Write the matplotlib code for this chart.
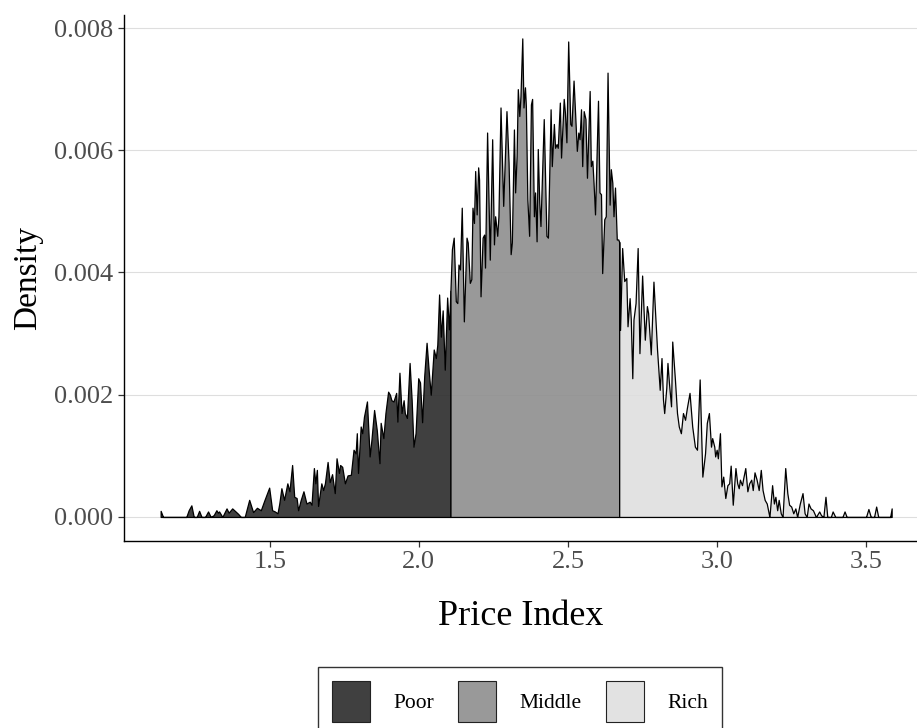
import numpy as np
import matplotlib
matplotlib.use("Agg")
import matplotlib.pyplot as plt
from matplotlib.patches import Patch
from matplotlib.colors import to_rgba

# density values, in units of 1e-4
poor_x = [1.134, 1.142, 1.220, 1.228, 1.237, 1.245, 1.255, 1.263, 1.271, 1.283,
          1.293, 1.302, 1.312, 1.321, 1.326, 1.330, 1.341, 1.355, 1.362, 1.374,
          1.383, 1.394, 1.403, 1.416, 1.431, 1.444, 1.457, 1.470, 1.481, 1.498,
          1.508, 1.517, 1.526, 1.532, 1.539, 1.548, 1.559, 1.566, 1.575, 1.582,
          1.590, 1.595, 1.604, 1.613, 1.623, 1.634, 1.640, 1.648, 1.653, 1.658,
          1.662, 1.673, 1.679, 1.685, 1.694, 1.701, 1.709, 1.718, 1.724, 1.732,
          1.736, 1.743, 1.752, 1.761, 1.772, 1.781, 1.788, 1.792, 1.796, 1.805,
          1.810, 1.816, 1.826, 1.835, 1.841, 1.850, 1.859, 1.868, 1.872, 1.881,
          1.888, 1.897, 1.903, 1.908, 1.915, 1.924, 1.928, 1.935, 1.942, 1.949,
          1.953, 1.960, 1.969, 1.976, 1.982, 1.989, 1.998, 2.004, 2.011, 2.018,
          2.026, 2.033, 2.040, 2.050, 2.057, 2.062, 2.068, 2.074, 2.080, 2.087,
          2.095, 2.101, 2.106]
poor_y = [1.0, 0.0, 0.0, 1.1, 1.9, 0.0, 0.0, 1.0, 0.0, 0.0,
          0.9, 0.0, 0.3, 1.1, 0.7, 0.9, 0.0, 1.4, 0.7, 1.4,
          1.0, 0.5, 0.0, 0.0, 2.8, 0.8, 1.5, 1.1, 2.6, 4.8,
          1.1, 0.9, 0.6, 2.2, 4.7, 2.8, 5.5, 4.2, 8.5, 3.3,
          3.1, 1.1, 2.8, 4.2, 2.2, 2.5, 2.0, 8.0, 5.5, 7.7,
          1.8, 5.5, 4.4, 5.5, 9.0, 5.7, 7.0, 3.9, 9.6, 7.2,
          8.5, 8.2, 5.5, 6.8, 6.9, 11.0, 10.4, 13.7, 7.2, 14.8,
          13.7, 16.4, 18.9, 9.9, 12.6, 17.5, 14.2, 8.8, 15.4, 12.9,
          17.0, 20.5, 20.0, 19.1, 18.9, 20.3, 15.6, 23.6, 17.0, 19.1,
          17.0, 16.2, 25.2, 19.1, 11.5, 13.7, 22.7, 22.0, 15.5, 23.0,
          28.5, 24.0, 20.0, 27.4, 26.0, 28.2, 36.4, 29.5, 33.8, 24.1,
          35.9, 30.7, 37.0]

middle_x = [2.106, 2.111, 2.117, 2.124, 2.129, 2.133, 2.138, 2.144, 2.151, 2.160,
            2.164, 2.171, 2.176, 2.180, 2.185, 2.189, 2.194, 2.199, 2.202, 2.207,
            2.214, 2.219, 2.222, 2.229, 2.238, 2.246, 2.252, 2.256, 2.263, 2.267,
            2.274, 2.283, 2.294, 2.301, 2.308, 2.312, 2.319, 2.323, 2.328, 2.332,
            2.337, 2.341, 2.347, 2.351, 2.356, 2.359, 2.364, 2.370, 2.376, 2.380,
            2.386, 2.390, 2.395, 2.399, 2.404, 2.408, 2.419, 2.428, 2.433, 2.442,
            2.446, 2.453, 2.457, 2.462, 2.466, 2.473, 2.477, 2.486, 2.490, 2.495,
            2.501, 2.508, 2.512, 2.519, 2.523, 2.530, 2.535, 2.539, 2.544, 2.548,
            2.553, 2.559, 2.564, 2.568, 2.573, 2.577, 2.582, 2.586, 2.591, 2.601,
            2.606, 2.611, 2.615, 2.622, 2.627, 2.633, 2.640, 2.644, 2.649, 2.653,
            2.658, 2.664, 2.669, 2.672]
middle_y = [37.0, 43.8, 45.7, 35.3, 35.0, 41.3, 40.5, 50.6, 32.0, 45.7,
            44.9, 38.3, 38.9, 50.6, 48.1, 56.6, 49.5, 57.2, 55.2, 36.1,
            45.7, 46.2, 40.8, 62.9, 42.1, 61.8, 44.6, 49.2, 46.0, 49.2,
            67.0, 50.9, 66.4, 58.0, 43.0, 44.9, 63.4, 53.1, 59.1, 70.0,
            65.6, 68.9, 78.3, 67.0, 70.3, 67.3, 52.0, 46.0, 67.5, 68.4,
            49.2, 53.1, 45.1, 60.2, 51.4, 47.6, 65.1, 46.0, 45.7, 66.7,
            57.4, 64.3, 60.4, 61.0, 60.4, 67.8, 58.8, 68.4, 66.2, 61.3,
            77.8, 64.3, 64.0, 71.4, 67.3, 59.9, 62.9, 61.8, 66.7, 57.4,
            66.4, 65.1, 55.5, 61.8, 69.7, 57.4, 58.3, 54.7, 49.5, 68.1,
            53.1, 52.8, 39.9, 48.7, 49.2, 72.7, 51.1, 56.9, 54.7, 49.2,
            53.9, 45.4, 45.4, 45.0]

rich_x = [2.672, 2.675, 2.682, 2.689, 2.696, 2.700, 2.707, 2.711, 2.716, 2.720,
          2.727, 2.734, 2.740, 2.749, 2.758, 2.765, 2.769, 2.778, 2.787, 2.799,
          2.808, 2.814, 2.819, 2.823, 2.830, 2.834, 2.839, 2.846, 2.850, 2.859,
          2.866, 2.872, 2.879, 2.886, 2.893, 2.899, 2.908, 2.917, 2.926, 2.933,
          2.942, 2.951, 2.960, 2.966, 2.973, 2.980, 2.984, 2.991, 2.994, 2.999,
          3.003, 3.010, 3.015, 3.021, 3.028, 3.035, 3.041, 3.046, 3.053, 3.062,
          3.068, 3.073, 3.077, 3.084, 3.088, 3.095, 3.102, 3.108, 3.115, 3.120,
          3.126, 3.133, 3.140, 3.147, 3.153, 3.160, 3.167, 3.176, 3.185, 3.191,
          3.196, 3.202, 3.207, 3.214, 3.220, 3.229, 3.236, 3.242, 3.249, 3.256,
          3.263, 3.269, 3.278, 3.287, 3.294, 3.301, 3.307, 3.314, 3.322, 3.332,
          3.343, 3.349, 3.357, 3.364, 3.370, 3.382, 3.388, 3.397, 3.421, 3.428,
          3.435, 3.500, 3.508, 3.516, 3.527, 3.534, 3.541, 3.581, 3.586]
rich_y = [45.0, 30.6, 44.0, 38.6, 39.1, 31.2, 35.8, 32.3, 22.7, 32.3,
          35.0, 44.0, 26.8, 39.5, 29.0, 34.5, 33.4, 26.6, 38.5, 27.4,
          20.8, 26.0, 19.2, 17.0, 21.1, 25.2, 21.9, 18.1, 28.7, 22.5,
          17.0, 14.8, 13.7, 17.0, 15.9, 17.8, 20.3, 14.8, 11.5, 11.0,
          22.5, 6.6, 10.4, 15.4, 17.0, 11.5, 12.9, 11.5, 9.9, 11.0,
          9.6, 13.7, 5.0, 6.6, 3.1, 5.2, 5.5, 8.4, 2.0, 8.0,
          5.5, 4.7, 6.1, 5.2, 6.3, 8.0, 4.2, 5.5, 6.1, 4.4,
          7.3, 6.1, 4.4, 7.7, 4.4, 2.8, 2.2, 0.0, 5.2, 2.2,
          3.3, 1.1, 2.8, 0.6, 0.0, 8.0, 3.9, 2.0, 1.7, 0.6,
          1.4, 0.0, 2.2, 3.9, 0.6, 0.0, 2.2, 1.4, 1.1, 0.0,
          0.9, 0.3, 0.0, 3.3, 0.0, 0.0, 0.9, 0.0, 0.0, 0.9,
          0.0, 0.0, 1.3, 0.0, 0.0, 1.7, 0.0, 0.0, 1.4]

groups = ["Poor", "Middle", "Rich"]
colors = ["#2b2b2b", "#8e8e8e", "#dfdfdf"]
yticks = [0.000, 0.002, 0.004, 0.006, 0.008]
xticks = [1.5, 2.0, 2.5, 3.0, 3.5]

plt.rcParams['font.family'] = ['Liberation Serif', 'DejaVu Serif']

fig = plt.figure(figsize=(9.17, 7.28), dpi=100)
ax = fig.add_axes([0.1352, 0.2569, 0.8648, 0.7225])

series = [(poor_x, poor_y), (middle_x, middle_y), (rich_x, rich_y)]
for (xs, ys), col, name in zip(series, colors, groups):
    xs = np.array(xs)
    ys = np.array(ys) * 1e-4
    ax.fill_between(xs, 0, ys, facecolor=to_rgba(col, 0.9),
                    edgecolor="black", linewidth=0.9, zorder=2)

ax.set_xlim(1.011, 3.671)
ax.set_ylim(-0.000393, 0.008213)
ax.set_xticks(xticks)
ax.set_xticklabels(["1.5", "2.0", "2.5", "3.0", "3.5"])
ax.set_yticks(yticks)
ax.set_yticklabels(["%.3f" % v for v in yticks])

ax.yaxis.grid(True, color="#dedede", linewidth=0.8)
ax.xaxis.grid(False)
ax.set_axisbelow(True)

for s in ["top", "right"]:
    ax.spines[s].set_visible(False)
for s in ["left", "bottom"]:
    ax.spines[s].set_color("black")
    ax.spines[s].set_linewidth(1.0)

ax.tick_params(axis="both", colors="#333333", labelcolor="#4d4d4d",
               labelsize=19, length=4.5, width=0.9, pad=3)

ax.set_xlabel("Price Index", fontsize=26, color="black", labelpad=19)
ax.set_ylabel("Density", fontsize=24, color="black", labelpad=8)

handles = [Patch(facecolor=to_rgba(c, 0.9), edgecolor="#222222", linewidth=0.8, label=g)
           for c, g in zip(colors, groups)]
leg = fig.legend(handles=handles, loc="lower center", bbox_to_anchor=(0.567, -0.026),
                 ncol=3, fontsize=15.5, frameon=True, fancybox=False,
                 edgecolor="black", handlelength=1.77, handleheight=2.55,
                 handletextpad=1.1, columnspacing=1.1, borderpad=0.65)
leg.get_frame().set_linewidth(1.0)

fig.savefig("out.png", dpi=100)
